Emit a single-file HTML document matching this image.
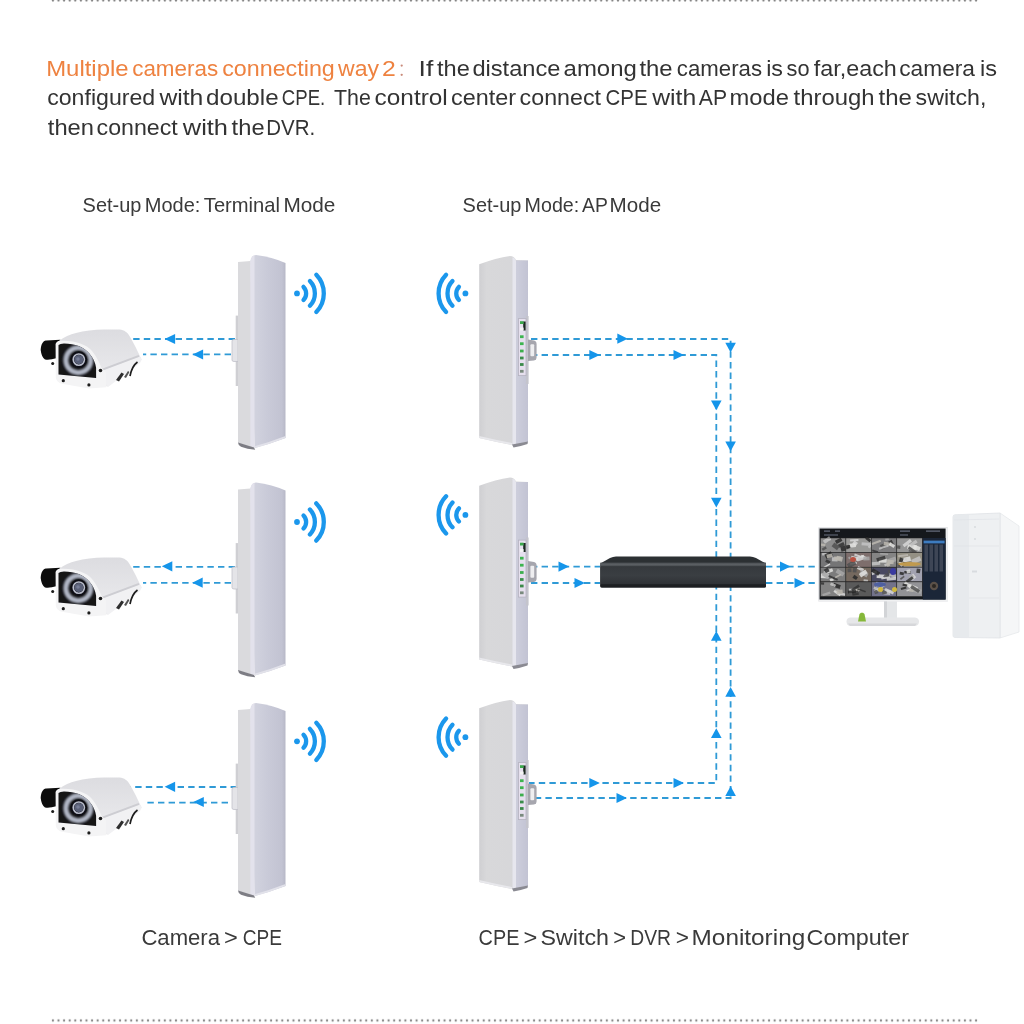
<!DOCTYPE html>
<html><head><meta charset="utf-8">
<style>
html,body{margin:0;padding:0;background:#fff;width:1024px;height:1024px;overflow:hidden}
svg{display:block;position:absolute;left:0;top:0}
text{font-family:"Liberation Sans",sans-serif}
.tx{opacity:0.995}
</style></head>
<body>
<svg width="1024" height="1024" viewBox="0 0 1024 1024">
<defs>
  <filter id="soft" x="-5%" y="-5%" width="110%" height="110%"><feGaussianBlur stdDeviation="0.7"/></filter>
  <filter id="soft2" x="-40%" y="-40%" width="180%" height="180%"><feGaussianBlur stdDeviation="0.8"/></filter>
  <filter id="ph" x="-10%" y="-10%" width="120%" height="120%"><feGaussianBlur stdDeviation="0.4"/></filter>
  <pattern id="dots" x="50.1" y="0" width="5.595" height="4" patternUnits="userSpaceOnUse">
    <circle cx="2.8" cy="0.5" r="1.15" fill="#858585"/>
  </pattern>
  <pattern id="dotsb" x="50.1" y="1018.5" width="5.595" height="4" patternUnits="userSpaceOnUse">
    <circle cx="2.8" cy="2" r="1.15" fill="#858585"/>
  </pattern>
  <!-- wifi icon facing right, centered at 0,0 -->
  <g id="wifiR">
    <circle cx="0" cy="0" r="2.9" fill="#1b97ec"/>
    <g fill="none" stroke="#1b97ec" stroke-width="4.3" stroke-linecap="round">
      <path d="M6.5,-6.5 A9.3,9.3 0 0 1 6.5,6.5"/>
      <path d="M12.9,-12.4 A17.9,17.9 0 0 1 12.9,12.4"/>
      <path d="M19.3,-18.6 A26.8,26.8 0 0 1 19.3,18.6"/>
    </g>
  </g>
  <g id="wifiL" transform="scale(-1,1)"><use href="#wifiR"/></g>
  <linearGradient id="lavL" x1="0" x2="1" y1="0" y2="0">
    <stop offset="0" stop-color="#d4d5e0"/>
    <stop offset="0.5" stop-color="#c9cad8"/>
    <stop offset="0.9" stop-color="#c2c3d2"/>
    <stop offset="1" stop-color="#b7b8c7"/>
  </linearGradient>
  <linearGradient id="lavR" x1="0" x2="1" y1="0" y2="0">
    <stop offset="0" stop-color="#cdcedc"/>
    <stop offset="1" stop-color="#c2c3d3"/>
  </linearGradient>
  <linearGradient id="greyF" x1="0" x2="1" y1="0" y2="0">
    <stop offset="0" stop-color="#cfcfd2"/>
    <stop offset="0.15" stop-color="#d8d8da"/>
    <stop offset="1" stop-color="#d6d6d9"/>
  </linearGradient>
  <!-- left CPE L1 (side on left, front on right) -->
  <g id="cpeL">
    <rect x="235.7" y="315.6" width="3.2" height="70.4" fill="#cfcfd3"/>
    <path d="M232,341 Q232,339.5 234,339.5 L238,339.5 L238,361.5 L234,361.5 Q232,361.5 232,360 Z" fill="#e4e4e8" stroke="#c2c2ca" stroke-width="0.8"/>
    <path d="M238,262 L250.5,261 L254,448 L238,443 Z" fill="#dadadd"/>
    <path d="M250.5,261 Q251.5,255 256,255 Q272,257 285.5,263 L285.5,438 Q270,444 254.5,448 Z" fill="url(#lavL)"/>
    <path d="M250.3,261 Q251.5,255.5 254.5,255.5 L254.5,448 L250.3,446 Z" fill="#e3e2ec"/>
    <path d="M238,442.4 L254,447.6 L255.2,449.8 Q247,449.2 241,446.8 Q238.2,445.4 238,442.4 Z" fill="#7d7d84"/>
    <path d="M254.5,446.2 Q270,442 285.5,436 L285.5,438 Q270,444 254.5,448.2 Z" fill="#e2e2ea"/>
  </g>
  <!-- middle CPE M1 (front on left, side on right) -->
  <g id="cpeM">
    <path d="M479.2,264.3 Q496,258 510,256 Q514,256 516,260 L528,260.5 L528,442 L512,445 Q496,442 479.2,438 Z" fill="url(#greyF)"/>
    <path d="M512.5,257.5 Q514.5,257 516,260.5 L516,444 L512.5,445 Z" fill="#e6e6ee"/>
    <path d="M516,260.5 L528,260.5 L528,442 L516,444 Z" fill="url(#lavR)"/>
    <path d="M512,444.6 L528,441.6 L527.5,444 Q520,446.5 513.5,447.6 Z" fill="#8a8a92"/>
    <path d="M479.2,436 Q496,440 512,443 L512,445 Q496,442 479.2,438 Z" fill="#e8e8ec"/>
    <rect x="526" y="316" width="2.6" height="68" fill="#c4c4cc"/>
    <rect x="518.4" y="318.6" width="7.6" height="57" fill="#e6e0ee" stroke="#b4b2c0" stroke-width="0.8"/>
    <rect x="523.2" y="321.5" width="2.4" height="9" fill="#1e2a22"/>
    <rect x="520" y="321.2" width="3.6" height="2.8" fill="#3aa84c"/>
    <rect x="520" y="327.6" width="3.6" height="2.8" fill="#f4f4f4"/>
    <rect x="520" y="335.3" width="3.6" height="2.8" fill="#3cb450"/>
    <rect x="520" y="342.3" width="3.6" height="2.8" fill="#3cb450"/>
    <rect x="520" y="349.6" width="3.6" height="2.8" fill="#3cae4e"/>
    <rect x="520" y="356.6" width="3.6" height="2.8" fill="#3a8e4c"/>
    <rect x="520" y="363.1" width="3.6" height="2.8" fill="#3a8a4a"/>
    <rect x="520" y="369.9" width="3.6" height="2.8" fill="#7a8a7e"/>
    <path d="M528,339.5 L534,340.5 Q536.6,341 536.6,344 L536.6,357 Q536.6,360 534,360.5 L528,361 Z" fill="#a6a6ae"/>
    <rect x="530.4" y="344.2" width="3.8" height="12" rx="1" fill="#eeeef0"/>
  </g>
  <!-- camera (camera 1) -->
  <linearGradient id="camTop" x1="0" x2="0" y1="0" y2="1">
    <stop offset="0" stop-color="#dcdce0"/>
    <stop offset="0.6" stop-color="#e6e6e9"/>
    <stop offset="1" stop-color="#eeeef0"/>
  </linearGradient>
  <clipPath id="winclip"><path d="M58.5,345 Q60,343.5 64,343.5 C75,343.5 84,347 89.3,353.4 C93,357.5 95.5,362.5 96.1,367.7 L96.1,378 L58.5,374.6 Z"/></clipPath>
  <g id="cam">
    <!-- housing -->
    <path d="M59,341 C64,337 70,334.5 76,333 C84,330.8 94,329.6 104,329.5 L119.4,329.5 C124.5,330 127.5,332.5 129.5,336 C132,340.5 135.5,346 137.7,351.5 L141.6,359.4 L107,387 L96,372 Z" fill="url(#camTop)"/>
    <path d="M98,372 L139.5,356.5 L141.8,359.6 L140,363 L108,387 Z" fill="#f1f1f3"/>
    <path d="M100,369.5 L138.6,355 L139.4,356.8 L99.5,371.8 Z" fill="#cdcdd2"/>
    <!-- black hood -->
    <path d="M40.7,350 C41,344 43,341 46,340.5 L60.5,339.7 Q57.2,342 56.8,346 L56.2,358.3 Q50,360.2 45,359.5 Q41.4,357 40.7,350 Z" fill="#111"/>
    <!-- front plate -->
    <path d="M55.6,344 Q56.5,341 60,340.8 L63,340.8 C77,341 87,345 92,351 C97,357 99.5,363 101.5,368 L106,372 L106,387.2 L89,388.5 L62,383.8 Q57,382.5 55.8,378 Z" fill="#f4f4f5"/>
    <!-- window -->
    <path d="M58.5,345 Q60,343.5 64,343.5 C75,343.5 84,347 89.3,353.4 C93,357.5 95.5,362.5 96.1,367.7 L96.1,378 L58.5,374.6 Z" fill="#131317"/>
    <g clip-path="url(#winclip)">
      <circle cx="78.3" cy="360.2" r="12.5" fill="none" stroke="#b0b6c4" stroke-width="5" filter="url(#soft2)"/>
    </g>
    <circle cx="78.8" cy="359.6" r="8.4" fill="#111115"/>
    <circle cx="78.8" cy="359.6" r="5.6" fill="none" stroke="#b8bccc" stroke-width="1.6"/>
    <circle cx="78.8" cy="359.6" r="4.6" fill="#5a6078"/>
    <circle cx="78" cy="359" r="1.8" fill="#767c96"/>
    <!-- screws -->
    <circle cx="52.7" cy="363.6" r="1.5" fill="#1a1a1a"/>
    <circle cx="63.3" cy="380.7" r="1.6" fill="#1a1a1a"/>
    <circle cx="88.9" cy="384.9" r="1.6" fill="#1a1a1a"/>
    <circle cx="100.5" cy="370.5" r="1.8" fill="#1a1a1a"/>
    <!-- bracket -->
    <path d="M137.5,362 Q132,366 130,376" fill="none" stroke="#1e1e1e" stroke-width="1.7"/>
    <path d="M116,380 L121.5,372.5 L124,374 L119,381.5 Z" fill="#2e2e2e"/>
    <path d="M124,377 L128,371 L129.5,372 L126,378 Z" fill="#555"/>
  </g>
  <!-- arrows -->
  <path id="arR" d="M-10.5,-5.1 L0,0 L-10.5,5.1 Z" fill="#1595ea"/>
  <path id="arL" d="M10.5,-5.1 L0,0 L10.5,5.1 Z" fill="#1595ea"/>
  <path id="arD" d="M-5.3,-9.8 L0,0 L5.3,-9.8 Z" fill="#1595ea"/>
  <path id="arU" d="M-5.3,9.8 L0,0 L5.3,9.8 Z" fill="#1595ea"/>
</defs>

<!-- dotted separators -->
<rect x="50" y="0" width="929" height="3" fill="url(#dots)"/>
<rect x="50" y="1018.5" width="929" height="4" fill="url(#dotsb)"/>

<!-- header text -->
<g class="tx">
<text x="46.2" y="76" font-size="22.6" fill="#ee8240" textLength="82.4" lengthAdjust="spacingAndGlyphs">Multiple</text>
<text x="132.2" y="76" font-size="22.6" fill="#ee8240" textLength="86.0" lengthAdjust="spacingAndGlyphs">cameras</text>
<text x="222.2" y="76" font-size="22.6" fill="#ee8240" textLength="112.6" lengthAdjust="spacingAndGlyphs">connecting</text>
<text x="338.0" y="76" font-size="22.6" fill="#ee8240" textLength="41.0" lengthAdjust="spacingAndGlyphs">way</text>
<text x="382.0" y="76" font-size="22.6" fill="#ee8240" textLength="13.8" lengthAdjust="spacingAndGlyphs">2</text>
<text x="418.6" y="76" font-size="22.6" fill="#333" textLength="14.8" lengthAdjust="spacingAndGlyphs">If</text>
<text x="437.0" y="76" font-size="22.6" fill="#333" textLength="32.8" lengthAdjust="spacingAndGlyphs">the</text>
<text x="472.4" y="76" font-size="22.6" fill="#333" textLength="88.0" lengthAdjust="spacingAndGlyphs">distance</text>
<text x="563.6" y="76" font-size="22.6" fill="#333" textLength="73.2" lengthAdjust="spacingAndGlyphs">among</text>
<text x="639.4" y="76" font-size="22.6" fill="#333" textLength="33.2" lengthAdjust="spacingAndGlyphs">the</text>
<text x="676.8" y="76" font-size="22.6" fill="#333" textLength="85.2" lengthAdjust="spacingAndGlyphs">cameras</text>
<text x="766.2" y="76" font-size="22.6" fill="#333" textLength="16.8" lengthAdjust="spacingAndGlyphs">is</text>
<text x="786.6" y="76" font-size="22.6" fill="#333" textLength="23.0" lengthAdjust="spacingAndGlyphs">so</text>
<text x="813.8" y="76" font-size="22.6" fill="#333" textLength="83.0" lengthAdjust="spacingAndGlyphs">far,each</text>
<text x="899.2" y="76" font-size="22.6" fill="#333" textLength="75.8" lengthAdjust="spacingAndGlyphs">camera</text>
<text x="980.0" y="76" font-size="22.6" fill="#333" textLength="17.0" lengthAdjust="spacingAndGlyphs">is</text>
<text x="47.2" y="105.2" font-size="22.6" fill="#333" textLength="108.0" lengthAdjust="spacingAndGlyphs">configured</text>
<text x="159.4" y="105.2" font-size="22.6" fill="#333" textLength="44.0" lengthAdjust="spacingAndGlyphs">with</text>
<text x="206.0" y="105.2" font-size="22.6" fill="#333" textLength="72.6" lengthAdjust="spacingAndGlyphs">double</text>
<text x="281.8" y="105.2" font-size="22.6" fill="#333" textLength="43.4" lengthAdjust="spacingAndGlyphs">CPE.</text>
<text x="334.0" y="105.2" font-size="22.6" fill="#333" textLength="36.8" lengthAdjust="spacingAndGlyphs">The</text>
<text x="374.6" y="105.2" font-size="22.6" fill="#333" textLength="73.2" lengthAdjust="spacingAndGlyphs">control</text>
<text x="451.0" y="105.2" font-size="22.6" fill="#333" textLength="65.0" lengthAdjust="spacingAndGlyphs">center</text>
<text x="519.6" y="105.2" font-size="22.6" fill="#333" textLength="81.4" lengthAdjust="spacingAndGlyphs">connect</text>
<text x="605.6" y="105.2" font-size="22.6" fill="#333" textLength="42.0" lengthAdjust="spacingAndGlyphs">CPE</text>
<text x="652.2" y="105.2" font-size="22.6" fill="#333" textLength="44.0" lengthAdjust="spacingAndGlyphs">with</text>
<text x="698.8" y="105.2" font-size="22.6" fill="#333" textLength="28.2" lengthAdjust="spacingAndGlyphs">AP</text>
<text x="729.6" y="105.2" font-size="22.6" fill="#333" textLength="59.4" lengthAdjust="spacingAndGlyphs">mode</text>
<text x="793.6" y="105.2" font-size="22.6" fill="#333" textLength="81.0" lengthAdjust="spacingAndGlyphs">through</text>
<text x="878.6" y="105.2" font-size="22.6" fill="#333" textLength="33.4" lengthAdjust="spacingAndGlyphs">the</text>
<text x="915.6" y="105.2" font-size="22.6" fill="#333" textLength="70.8" lengthAdjust="spacingAndGlyphs">switch,</text>
<text x="47.8" y="135.3" font-size="22.6" fill="#333" textLength="46.2" lengthAdjust="spacingAndGlyphs">then</text>
<text x="96.6" y="135.3" font-size="22.6" fill="#333" textLength="81.2" lengthAdjust="spacingAndGlyphs">connect</text>
<text x="182.8" y="135.3" font-size="22.6" fill="#333" textLength="45.2" lengthAdjust="spacingAndGlyphs">with</text>
<text x="231.6" y="135.3" font-size="22.6" fill="#333" textLength="33.0" lengthAdjust="spacingAndGlyphs">the</text>
<text x="266.2" y="135.3" font-size="22.6" fill="#333" textLength="49.0" lengthAdjust="spacingAndGlyphs">DVR.</text>
<text x="82.6" y="211.7" font-size="20.3" fill="#3a3a3a" textLength="58.8" lengthAdjust="spacingAndGlyphs">Set-up</text>
<text x="144.8" y="211.7" font-size="20.3" fill="#3a3a3a" textLength="55.6" lengthAdjust="spacingAndGlyphs">Mode:</text>
<text x="203.8" y="211.7" font-size="20.3" fill="#3a3a3a" textLength="76.2" lengthAdjust="spacingAndGlyphs">Terminal</text>
<text x="283.4" y="211.7" font-size="20.3" fill="#3a3a3a" textLength="52.0" lengthAdjust="spacingAndGlyphs">Mode</text>
<text x="462.6" y="211.7" font-size="20.3" fill="#3a3a3a" textLength="58.8" lengthAdjust="spacingAndGlyphs">Set-up</text>
<text x="524.6" y="211.7" font-size="20.3" fill="#3a3a3a" textLength="54.6" lengthAdjust="spacingAndGlyphs">Mode:</text>
<text x="582.0" y="211.7" font-size="20.3" fill="#3a3a3a" textLength="25.8" lengthAdjust="spacingAndGlyphs">AP</text>
<text x="609.6" y="211.7" font-size="20.3" fill="#3a3a3a" textLength="51.6" lengthAdjust="spacingAndGlyphs">Mode</text>
<text x="141.4" y="944.5" font-size="22" fill="#3a3a3a" textLength="78.6" lengthAdjust="spacingAndGlyphs">Camera</text>
<text x="224.0" y="944.5" font-size="22" fill="#3a3a3a" textLength="13.8" lengthAdjust="spacingAndGlyphs">&gt;</text>
<text x="242.8" y="944.5" font-size="22" fill="#3a3a3a" textLength="39.2" lengthAdjust="spacingAndGlyphs">CPE</text>
<text x="478.6" y="944.5" font-size="22" fill="#3a3a3a" textLength="40.8" lengthAdjust="spacingAndGlyphs">CPE</text>
<text x="523.6" y="944.5" font-size="22" fill="#3a3a3a" textLength="13.8" lengthAdjust="spacingAndGlyphs">&gt;</text>
<text x="540.6" y="944.5" font-size="22" fill="#3a3a3a" textLength="68.4" lengthAdjust="spacingAndGlyphs">Switch</text>
<text x="613.2" y="944.5" font-size="22" fill="#3a3a3a" textLength="12.8" lengthAdjust="spacingAndGlyphs">&gt;</text>
<text x="630.2" y="944.5" font-size="22" fill="#3a3a3a" textLength="40.8" lengthAdjust="spacingAndGlyphs">DVR</text>
<text x="675.8" y="944.5" font-size="22" fill="#3a3a3a" textLength="13.2" lengthAdjust="spacingAndGlyphs">&gt;</text>
<text x="691.6" y="944.5" font-size="22" fill="#3a3a3a" textLength="113.6" lengthAdjust="spacingAndGlyphs">Monitoring</text>
<text x="806.6" y="944.5" font-size="22" fill="#3a3a3a" textLength="102.4" lengthAdjust="spacingAndGlyphs">Computer</text>
<circle cx="401.7" cy="65.6" r="1.15" fill="#c98a7a"/><circle cx="401.7" cy="74.8" r="1.15" fill="#c98a7a"/>
</g>
<!-- dashed lines -->
<g fill="none" stroke="#2f9ad6" stroke-width="1.8" stroke-dasharray="6.4 4.2">
  <!-- left group -->
  <path d="M235,339 H131 M231,354.3 H143"/>
  <path d="M235,566.8 H129 M231,582.8 H143"/>
  <path d="M237,787 H130 M228,802.7 H144"/>
  <!-- middle -->
  <path d="M531,339 H730.6 V798 H529"/>
  <path d="M531,355 H716.3 V783 H529"/>
  <path d="M531,566.6 H600 M766,566.6 H818"/>
  <path d="M531,583 H600 M766,583 H818"/>
</g>
<!-- arrows -->
<g>
  <use href="#arL" x="164.6" y="339"/>
  <use href="#arL" x="192.6" y="354.5"/>
  <use href="#arL" x="161.8" y="566.3"/>
  <use href="#arL" x="192.2" y="582.7"/>
  <use href="#arL" x="164.6" y="786.8"/>
  <use href="#arL" x="193.3" y="802"/>

  <use href="#arR" x="627.8" y="338.7"/>
  <use href="#arR" x="599.8" y="355"/>
  <use href="#arR" x="684" y="355"/>
  <use href="#arR" x="569" y="566.6"/>
  <use href="#arR" x="585" y="583"/>
  <use href="#arR" x="790.5" y="566.6"/>
  <use href="#arR" x="805" y="583"/>
  <use href="#arR" x="599.8" y="783"/>
  <use href="#arR" x="684" y="783"/>
  <use href="#arR" x="627" y="798"/>

  <use href="#arD" x="730.6" y="352.5"/>
  <use href="#arD" x="730.6" y="451.2"/>
  <use href="#arU" x="730.6" y="687"/>
  <use href="#arU" x="730.6" y="786.3"/>
  <use href="#arD" x="716.3" y="410.3"/>
  <use href="#arD" x="716.3" y="507.5"/>
  <use href="#arU" x="716.3" y="631"/>
  <use href="#arU" x="716.3" y="728.3"/>
</g>

<!-- wifi icons -->
<use href="#wifiR" x="297" y="293.4"/>
<use href="#wifiR" x="297" y="522"/>
<use href="#wifiR" x="297" y="741.3"/>
<use href="#wifiL" transform="translate(465.4,293.4)"/>
<use href="#wifiL" transform="translate(465.4,514.9)"/>
<use href="#wifiL" transform="translate(465.4,737.2)"/>

<!-- CPEs -->
<g filter="url(#ph)">
<use href="#cpeL"/>
<use href="#cpeL" y="227.5"/>
<use href="#cpeL" y="448"/>
<use href="#cpeM"/>
<use href="#cpeM" y="221.5"/>
<use href="#cpeM" y="444"/>
</g>

<!-- cameras -->
<g filter="url(#ph)">
<use href="#cam"/>
<use href="#cam" y="228"/>
<use href="#cam" y="448"/>
</g>

<!-- switch -->
<linearGradient id="swHi" x1="0" x2="0" y1="0" y2="1">
  <stop offset="0" stop-color="#4a4e52"/><stop offset="0.5" stop-color="#5b5f63"/><stop offset="1" stop-color="#43474b"/>
</linearGradient>
<linearGradient id="swBody" x1="0" x2="0" y1="0" y2="1">
  <stop offset="0" stop-color="#36393d"/><stop offset="0.5" stop-color="#3a3e42"/><stop offset="1" stop-color="#2f3236"/>
</linearGradient>
<g>
  <path d="M616,556.5 L750,556.5 Q753,556.6 756,558 L766,563.5 L766,586 Q766,587.6 764.5,587.6 L602,587.6 Q600.3,587.6 600.3,586 L600.3,563.5 L610,558 Q613,556.6 616,556.5 Z" fill="#2c3033"/>
  <rect x="600.3" y="562.6" width="165.7" height="4" fill="url(#swHi)"/>
  <rect x="600.3" y="566.6" width="165.7" height="17.6" fill="url(#swBody)"/>
  <path d="M600.3,584.2 L766,584.2 L766,586 Q766,587.6 764.5,587.6 L602,587.6 Q600.3,587.6 600.3,586 Z" fill="#1d1f22"/>
</g>

<!-- monitor -->
<g>
  <rect x="818.4" y="527.4" width="129.4" height="74" fill="#d4d6d9"/>
  <rect x="819.6" y="528.6" width="126.4" height="71.2" fill="#15181c"/>
  <rect x="945.6" y="528" width="2.2" height="73" fill="#eeeff1"/>
  <rect x="818.4" y="599.6" width="129.4" height="1.8" fill="#f0f1f2"/>
  <g filter="url(#soft)">
<rect x="820.4" y="538.0" width="25.5" height="14.6" fill="#8c8c8c"/>
<rect x="838.2" y="543.2" width="6.2" height="3.5" fill="#343434" opacity="0.85" transform="rotate(-25 841.3 544.9)"/>
<rect x="835.4" y="539.0" width="6.6" height="3.7" fill="#282828" opacity="0.85" transform="rotate(-29 838.7 540.9)"/>
<rect x="832.3" y="544.0" width="6.8" height="4.6" fill="#505050" opacity="0.85" transform="rotate(37 835.6 546.3)"/>
<rect x="823.2" y="538.2" width="7.6" height="3.7" fill="#c4c4c4" opacity="0.85" transform="rotate(-35 827.0 540.0)"/>
<rect x="821.0" y="543.7" width="4.3" height="2.3" fill="#bcb8b0" opacity="0.85" transform="rotate(7 823.2 544.9)"/>
<rect x="826.6" y="538.1" width="4.4" height="2.3" fill="#c4c4c4" opacity="0.85" transform="rotate(-3 828.8 539.2)"/>
<rect x="840.8" y="546.1" width="4.9" height="5.0" fill="#282828" opacity="0.85" transform="rotate(-15 843.3 548.6)"/>
<rect x="821.9" y="547.3" width="4.6" height="2.5" fill="#505050" opacity="0.85" transform="rotate(-31 824.2 548.5)"/>
<rect x="820.4" y="538.0" width="25.5" height="14.6" fill="none" stroke="#222" stroke-width="0.5"/>
<rect x="845.9" y="538.0" width="25.5" height="14.6" fill="#9a9a98"/>
<rect x="846.2" y="546.8" width="5.0" height="1.7" fill="#343434" opacity="0.85" transform="rotate(-23 848.7 547.7)"/>
<rect x="861.6" y="542.6" width="9.4" height="3.1" fill="#c4c4c4" opacity="0.85" transform="rotate(5 866.3 544.1)"/>
<rect x="852.9" y="541.3" width="4.4" height="3.9" fill="#d8d8d8" opacity="0.85" transform="rotate(37 855.1 543.3)"/>
<rect x="850.1" y="539.3" width="8.3" height="1.9" fill="#d8d8d8" opacity="0.85" transform="rotate(-3 854.2 540.2)"/>
<rect x="849.4" y="543.5" width="6.4" height="3.9" fill="#e4e4e2" opacity="0.85" transform="rotate(-6 852.6 545.4)"/>
<rect x="865.4" y="538.0" width="5.7" height="2.9" fill="#282828" opacity="0.85" transform="rotate(40 868.3 539.4)"/>
<rect x="868.1" y="545.5" width="3.1" height="2.2" fill="#c4c4c4" opacity="0.85" transform="rotate(-37 869.6 546.6)"/>
<rect x="846.1" y="545.1" width="4.0" height="3.0" fill="#282828" opacity="0.85" transform="rotate(-9 848.1 546.6)"/>
<rect x="845.9" y="538.0" width="25.5" height="14.6" fill="none" stroke="#222" stroke-width="0.5"/>
<rect x="871.3" y="538.0" width="25.5" height="14.6" fill="#7c7c7e"/>
<rect x="885.3" y="538.2" width="3.5" height="2.2" fill="#a8a8a8" opacity="0.85" transform="rotate(-10 887.0 539.3)"/>
<rect x="880.6" y="543.6" width="6.2" height="4.9" fill="#505050" opacity="0.85" transform="rotate(-25 883.7 546.0)"/>
<rect x="888.8" y="540.5" width="4.1" height="4.7" fill="#343434" opacity="0.85" transform="rotate(-27 890.8 542.8)"/>
<rect x="883.7" y="542.3" width="7.4" height="3.4" fill="#bcb8b0" opacity="0.85" transform="rotate(8 887.4 544.1)"/>
<rect x="872.1" y="550.3" width="6.0" height="1.9" fill="#343434" opacity="0.85" transform="rotate(19 875.0 551.2)"/>
<rect x="889.1" y="543.7" width="5.7" height="3.0" fill="#e4e4e2" opacity="0.85" transform="rotate(34 892.0 545.2)"/>
<rect x="878.8" y="546.3" width="9.8" height="1.9" fill="#c4c4c4" opacity="0.85" transform="rotate(-18 883.7 547.3)"/>
<rect x="871.6" y="541.3" width="9.4" height="2.2" fill="#bcb8b0" opacity="0.85" transform="rotate(-20 876.3 542.4)"/>
<rect x="871.3" y="538.0" width="25.5" height="14.6" fill="none" stroke="#222" stroke-width="0.5"/>
<rect x="896.8" y="538.0" width="25.5" height="14.6" fill="#969696"/>
<rect x="908.5" y="549.8" width="3.3" height="2.5" fill="#c4c4c4" opacity="0.85" transform="rotate(-11 910.2 551.1)"/>
<rect x="907.4" y="544.7" width="9.2" height="4.9" fill="#e4e4e2" opacity="0.85" transform="rotate(7 912.0 547.2)"/>
<rect x="902.5" y="541.6" width="9.5" height="3.2" fill="#d8d8d8" opacity="0.85" transform="rotate(-38 907.2 543.2)"/>
<rect x="909.9" y="541.6" width="7.5" height="3.2" fill="#c4c4c4" opacity="0.85" transform="rotate(-34 913.6 543.2)"/>
<rect x="913.5" y="545.8" width="6.8" height="4.1" fill="#e4e4e2" opacity="0.85" transform="rotate(23 916.9 547.8)"/>
<rect x="907.7" y="548.7" width="9.4" height="2.7" fill="#505050" opacity="0.85" transform="rotate(36 912.4 550.1)"/>
<rect x="897.1" y="545.5" width="3.2" height="3.2" fill="#505050" opacity="0.85" transform="rotate(7 898.7 547.2)"/>
<rect x="908.4" y="550.8" width="7.3" height="1.8" fill="#505050" opacity="0.85" transform="rotate(18 912.0 551.6)"/>
<rect x="896.8" y="538.0" width="25.5" height="14.6" fill="none" stroke="#222" stroke-width="0.5"/>
<rect x="820.4" y="552.6" width="25.5" height="14.6" fill="#747476"/>
<rect x="831.9" y="557.3" width="5.7" height="4.1" fill="#c4c4c4" opacity="0.85" transform="rotate(1 834.7 559.3)"/>
<rect x="822.1" y="552.9" width="6.6" height="2.6" fill="#c4c4c4" opacity="0.85" transform="rotate(-0 825.4 554.2)"/>
<rect x="825.0" y="552.7" width="7.3" height="4.7" fill="#282828" opacity="0.85" transform="rotate(-29 828.7 555.1)"/>
<rect x="834.1" y="556.5" width="7.3" height="3.3" fill="#bcb8b0" opacity="0.85" transform="rotate(-0 837.7 558.2)"/>
<rect x="825.6" y="560.1" width="4.7" height="2.9" fill="#343434" opacity="0.85" transform="rotate(30 827.9 561.5)"/>
<rect x="826.7" y="554.1" width="5.7" height="3.5" fill="#bcb8b0" opacity="0.85" transform="rotate(-12 829.5 555.9)"/>
<rect x="821.4" y="565.4" width="9.3" height="1.6" fill="#e4e4e2" opacity="0.85" transform="rotate(-31 826.1 566.2)"/>
<rect x="836.3" y="556.4" width="6.3" height="4.7" fill="#bcb8b0" opacity="0.85" transform="rotate(14 839.5 558.8)"/>
<rect x="820.4" y="552.6" width="25.5" height="14.6" fill="none" stroke="#222" stroke-width="0.5"/>
<rect x="845.9" y="552.6" width="25.5" height="14.6" fill="#7e6e6c"/>
<rect x="856.7" y="555.9" width="8.0" height="4.4" fill="#d8d8d8" opacity="0.85" transform="rotate(-18 860.8 558.1)"/>
<rect x="851.0" y="556.4" width="7.3" height="3.9" fill="#d8d8d8" opacity="0.85" transform="rotate(11 854.6 558.4)"/>
<rect x="860.9" y="555.9" width="5.8" height="2.2" fill="#e4e4e2" opacity="0.85" transform="rotate(24 863.9 557.0)"/>
<rect x="847.5" y="559.4" width="9.9" height="1.9" fill="#a8a8a8" opacity="0.85" transform="rotate(37 852.5 560.4)"/>
<rect x="854.2" y="554.8" width="7.8" height="2.2" fill="#d8d8d8" opacity="0.85" transform="rotate(20 858.1 555.9)"/>
<rect x="850.1" y="562.7" width="6.7" height="1.6" fill="#e4e4e2" opacity="0.85" transform="rotate(-9 853.5 563.6)"/>
<rect x="847.3" y="561.9" width="8.5" height="4.7" fill="#505050" opacity="0.85" transform="rotate(-30 851.6 564.2)"/>
<rect x="863.4" y="556.7" width="6.2" height="3.7" fill="#a8a8a8" opacity="0.85" transform="rotate(-3 866.5 558.6)"/>
<rect x="845.9" y="552.6" width="25.5" height="14.6" fill="none" stroke="#222" stroke-width="0.5"/>
<rect x="871.3" y="552.6" width="25.5" height="14.6" fill="#848484"/>
<rect x="884.2" y="562.8" width="7.6" height="2.2" fill="#c4c4c4" opacity="0.85" transform="rotate(-23 888.0 563.9)"/>
<rect x="887.1" y="557.8" width="9.3" height="4.9" fill="#a8a8a8" opacity="0.85" transform="rotate(-19 891.7 560.3)"/>
<rect x="880.1" y="553.1" width="8.0" height="1.6" fill="#a8a8a8" opacity="0.85" transform="rotate(4 884.1 553.9)"/>
<rect x="871.8" y="561.9" width="8.4" height="3.2" fill="#c4c4c4" opacity="0.85" transform="rotate(-6 876.0 563.5)"/>
<rect x="886.5" y="562.9" width="3.2" height="3.4" fill="#bcb8b0" opacity="0.85" transform="rotate(-28 888.2 564.6)"/>
<rect x="887.1" y="559.9" width="6.6" height="4.0" fill="#bcb8b0" opacity="0.85" transform="rotate(6 890.4 561.9)"/>
<rect x="879.0" y="558.5" width="7.8" height="4.2" fill="#e4e4e2" opacity="0.85" transform="rotate(2 883.0 560.6)"/>
<rect x="876.5" y="556.9" width="8.9" height="3.5" fill="#343434" opacity="0.85" transform="rotate(-16 880.9 558.6)"/>
<rect x="871.3" y="552.6" width="25.5" height="14.6" fill="none" stroke="#222" stroke-width="0.5"/>
<rect x="896.8" y="552.6" width="25.5" height="14.6" fill="#949084"/>
<rect x="902.6" y="558.2" width="4.0" height="3.4" fill="#505050" opacity="0.85" transform="rotate(3 904.6 559.9)"/>
<rect x="897.3" y="563.3" width="6.5" height="3.6" fill="#505050" opacity="0.85" transform="rotate(4 900.5 565.1)"/>
<rect x="898.2" y="554.7" width="9.9" height="1.9" fill="#bcb8b0" opacity="0.85" transform="rotate(-7 903.2 555.7)"/>
<rect x="901.0" y="557.3" width="9.7" height="4.7" fill="#e4e4e2" opacity="0.85" transform="rotate(-13 905.8 559.7)"/>
<rect x="911.6" y="557.8" width="9.3" height="4.8" fill="#c4c4c4" opacity="0.85" transform="rotate(-25 916.3 560.2)"/>
<rect x="899.1" y="560.3" width="7.3" height="4.7" fill="#d8d8d8" opacity="0.85" transform="rotate(-37 902.8 562.7)"/>
<rect x="902.8" y="562.1" width="4.1" height="1.5" fill="#343434" opacity="0.85" transform="rotate(10 904.9 562.9)"/>
<rect x="899.4" y="558.0" width="3.7" height="4.1" fill="#282828" opacity="0.85" transform="rotate(17 901.3 560.0)"/>
<rect x="896.8" y="552.6" width="25.5" height="14.6" fill="none" stroke="#222" stroke-width="0.5"/>
<rect x="820.4" y="567.2" width="25.5" height="14.6" fill="#7c7c7c"/>
<rect x="820.8" y="573.6" width="7.9" height="4.6" fill="#e4e4e2" opacity="0.85" transform="rotate(3 824.8 575.9)"/>
<rect x="824.0" y="569.7" width="9.0" height="3.4" fill="#e4e4e2" opacity="0.85" transform="rotate(-21 828.5 571.4)"/>
<rect x="836.0" y="570.5" width="8.2" height="4.3" fill="#a8a8a8" opacity="0.85" transform="rotate(31 840.1 572.7)"/>
<rect x="824.5" y="568.3" width="4.4" height="4.2" fill="#343434" opacity="0.85" transform="rotate(-29 826.7 570.4)"/>
<rect x="829.9" y="578.3" width="3.6" height="2.9" fill="#e4e4e2" opacity="0.85" transform="rotate(-24 831.7 579.8)"/>
<rect x="822.1" y="573.1" width="7.4" height="4.3" fill="#a8a8a8" opacity="0.85" transform="rotate(33 825.8 575.3)"/>
<rect x="828.3" y="576.9" width="9.8" height="1.9" fill="#343434" opacity="0.85" transform="rotate(24 833.2 577.8)"/>
<rect x="834.9" y="575.2" width="6.4" height="1.6" fill="#bcb8b0" opacity="0.85" transform="rotate(-28 838.1 576.0)"/>
<rect x="820.4" y="567.2" width="25.5" height="14.6" fill="none" stroke="#222" stroke-width="0.5"/>
<rect x="845.9" y="567.2" width="25.5" height="14.6" fill="#74695e"/>
<rect x="863.6" y="579.5" width="4.3" height="2.2" fill="#c4c4c4" opacity="0.85" transform="rotate(6 865.8 580.6)"/>
<rect x="847.5" y="568.3" width="3.9" height="3.9" fill="#505050" opacity="0.85" transform="rotate(-3 849.5 570.2)"/>
<rect x="857.2" y="567.4" width="6.6" height="3.0" fill="#d8d8d8" opacity="0.85" transform="rotate(28 860.5 568.9)"/>
<rect x="861.5" y="571.9" width="4.3" height="3.1" fill="#343434" opacity="0.85" transform="rotate(8 863.6 573.5)"/>
<rect x="852.9" y="568.1" width="3.7" height="4.3" fill="#505050" opacity="0.85" transform="rotate(6 854.7 570.3)"/>
<rect x="853.0" y="575.7" width="4.3" height="3.5" fill="#282828" opacity="0.85" transform="rotate(33 855.2 577.5)"/>
<rect x="859.9" y="571.5" width="8.2" height="4.2" fill="#a8a8a8" opacity="0.85" transform="rotate(30 864.0 573.6)"/>
<rect x="859.3" y="571.5" width="7.9" height="4.2" fill="#e4e4e2" opacity="0.85" transform="rotate(-34 863.2 573.6)"/>
<rect x="845.9" y="567.2" width="25.5" height="14.6" fill="none" stroke="#222" stroke-width="0.5"/>
<rect x="871.3" y="567.2" width="25.5" height="14.6" fill="#4a4a60"/>
<rect x="871.5" y="571.3" width="5.4" height="3.1" fill="#d8d8d8" opacity="0.85" transform="rotate(-21 874.2 572.9)"/>
<rect x="876.7" y="574.4" width="9.6" height="3.8" fill="#e4e4e2" opacity="0.85" transform="rotate(3 881.5 576.3)"/>
<rect x="884.0" y="574.0" width="5.7" height="5.0" fill="#505050" opacity="0.85" transform="rotate(38 886.8 576.5)"/>
<rect x="887.8" y="570.1" width="3.2" height="3.7" fill="#505050" opacity="0.85" transform="rotate(0 889.3 571.9)"/>
<rect x="871.5" y="570.1" width="8.3" height="3.8" fill="#282828" opacity="0.85" transform="rotate(32 875.6 571.9)"/>
<rect x="889.3" y="573.7" width="6.9" height="3.3" fill="#c4c4c4" opacity="0.85" transform="rotate(11 892.7 575.3)"/>
<rect x="881.3" y="577.0" width="8.7" height="1.8" fill="#d8d8d8" opacity="0.85" transform="rotate(-9 885.7 577.9)"/>
<rect x="886.7" y="577.3" width="9.6" height="2.9" fill="#d8d8d8" opacity="0.85" transform="rotate(-6 891.5 578.8)"/>
<rect x="871.3" y="567.2" width="25.5" height="14.6" fill="none" stroke="#222" stroke-width="0.5"/>
<rect x="896.8" y="567.2" width="25.5" height="14.6" fill="#a2a2b0"/>
<rect x="904.3" y="571.0" width="6.5" height="2.5" fill="#282828" opacity="0.85" transform="rotate(-1 907.5 572.3)"/>
<rect x="910.4" y="574.6" width="4.9" height="4.8" fill="#d8d8d8" opacity="0.85" transform="rotate(-39 912.8 577.0)"/>
<rect x="900.0" y="577.0" width="4.7" height="1.6" fill="#505050" opacity="0.85" transform="rotate(-36 902.4 577.9)"/>
<rect x="908.5" y="575.7" width="5.2" height="2.9" fill="#a8a8a8" opacity="0.85" transform="rotate(-34 911.1 577.2)"/>
<rect x="904.4" y="578.6" width="9.3" height="3.0" fill="#343434" opacity="0.85" transform="rotate(-36 909.1 580.1)"/>
<rect x="916.5" y="568.7" width="3.7" height="4.3" fill="#343434" opacity="0.85" transform="rotate(8 918.4 570.9)"/>
<rect x="906.6" y="569.5" width="3.8" height="3.7" fill="#d8d8d8" opacity="0.85" transform="rotate(-11 908.5 571.3)"/>
<rect x="899.7" y="572.2" width="4.1" height="2.8" fill="#282828" opacity="0.85" transform="rotate(11 901.8 573.6)"/>
<rect x="896.8" y="567.2" width="25.5" height="14.6" fill="none" stroke="#222" stroke-width="0.5"/>
<rect x="820.4" y="581.9" width="25.5" height="14.6" fill="#828282"/>
<rect x="833.5" y="591.5" width="7.8" height="2.8" fill="#e4e4e2" opacity="0.85" transform="rotate(36 837.4 592.9)"/>
<rect x="822.4" y="592.8" width="8.1" height="2.3" fill="#a8a8a8" opacity="0.85" transform="rotate(-18 826.4 594.0)"/>
<rect x="833.1" y="583.9" width="7.3" height="4.0" fill="#282828" opacity="0.85" transform="rotate(20 836.7 585.9)"/>
<rect x="841.1" y="593.1" width="4.3" height="2.4" fill="#d8d8d8" opacity="0.85" transform="rotate(10 843.3 594.3)"/>
<rect x="821.0" y="582.3" width="3.1" height="2.4" fill="#343434" opacity="0.85" transform="rotate(3 822.5 583.5)"/>
<rect x="835.2" y="588.9" width="3.5" height="1.8" fill="#a8a8a8" opacity="0.85" transform="rotate(-1 837.0 589.8)"/>
<rect x="830.3" y="583.5" width="5.5" height="2.7" fill="#c4c4c4" opacity="0.85" transform="rotate(24 833.0 584.8)"/>
<rect x="836.6" y="589.8" width="6.1" height="4.4" fill="#bcb8b0" opacity="0.85" transform="rotate(-6 839.7 591.9)"/>
<rect x="820.4" y="581.9" width="25.5" height="14.6" fill="none" stroke="#222" stroke-width="0.5"/>
<rect x="845.9" y="581.9" width="25.5" height="14.6" fill="#5a5a5a"/>
<rect x="853.5" y="588.6" width="4.8" height="4.3" fill="#a8a8a8" opacity="0.85" transform="rotate(-17 855.9 590.8)"/>
<rect x="849.0" y="588.6" width="8.3" height="4.4" fill="#c4c4c4" opacity="0.85" transform="rotate(-3 853.2 590.8)"/>
<rect x="854.6" y="588.2" width="5.3" height="3.4" fill="#bcb8b0" opacity="0.85" transform="rotate(-16 857.2 590.0)"/>
<rect x="849.5" y="590.4" width="8.4" height="1.8" fill="#c4c4c4" opacity="0.85" transform="rotate(16 853.7 591.3)"/>
<rect x="852.1" y="591.1" width="6.5" height="4.2" fill="#343434" opacity="0.85" transform="rotate(-11 855.3 593.2)"/>
<rect x="847.9" y="590.3" width="8.1" height="2.8" fill="#282828" opacity="0.85" transform="rotate(-5 851.9 591.7)"/>
<rect x="851.2" y="586.7" width="8.6" height="2.6" fill="#343434" opacity="0.85" transform="rotate(-33 855.5 588.0)"/>
<rect x="857.1" y="589.5" width="8.8" height="1.6" fill="#343434" opacity="0.85" transform="rotate(19 861.5 590.3)"/>
<rect x="845.9" y="581.9" width="25.5" height="14.6" fill="none" stroke="#222" stroke-width="0.5"/>
<rect x="871.3" y="581.9" width="25.5" height="14.6" fill="#72728a"/>
<rect x="874.4" y="588.8" width="5.6" height="2.9" fill="#e4e4e2" opacity="0.85" transform="rotate(-26 877.2 590.3)"/>
<rect x="876.1" y="582.1" width="8.3" height="4.6" fill="#d8d8d8" opacity="0.85" transform="rotate(4 880.3 584.4)"/>
<rect x="883.3" y="589.7" width="7.0" height="4.9" fill="#c4c4c4" opacity="0.85" transform="rotate(7 886.8 592.2)"/>
<rect x="878.1" y="584.9" width="5.1" height="3.4" fill="#c4c4c4" opacity="0.85" transform="rotate(32 880.7 586.6)"/>
<rect x="874.4" y="590.0" width="3.6" height="3.7" fill="#505050" opacity="0.85" transform="rotate(-20 876.2 591.9)"/>
<rect x="882.2" y="589.9" width="4.5" height="4.2" fill="#505050" opacity="0.85" transform="rotate(-12 884.5 592.0)"/>
<rect x="873.6" y="587.7" width="8.7" height="2.7" fill="#c4c4c4" opacity="0.85" transform="rotate(17 877.9 589.0)"/>
<rect x="884.6" y="589.7" width="9.4" height="2.9" fill="#d8d8d8" opacity="0.85" transform="rotate(24 889.3 591.1)"/>
<rect x="871.3" y="581.9" width="25.5" height="14.6" fill="none" stroke="#222" stroke-width="0.5"/>
<rect x="896.8" y="581.9" width="25.5" height="14.6" fill="#929296"/>
<rect x="912.7" y="588.3" width="8.8" height="4.6" fill="#a8a8a8" opacity="0.85" transform="rotate(17 917.1 590.6)"/>
<rect x="903.8" y="583.6" width="8.6" height="3.0" fill="#e4e4e2" opacity="0.85" transform="rotate(39 908.1 585.1)"/>
<rect x="900.8" y="587.2" width="5.6" height="2.1" fill="#282828" opacity="0.85" transform="rotate(-18 903.6 588.2)"/>
<rect x="908.6" y="585.4" width="9.2" height="3.2" fill="#e4e4e2" opacity="0.85" transform="rotate(22 913.2 586.9)"/>
<rect x="906.5" y="589.4" width="4.3" height="1.7" fill="#d8d8d8" opacity="0.85" transform="rotate(-15 908.6 590.3)"/>
<rect x="909.1" y="589.0" width="4.4" height="2.8" fill="#bcb8b0" opacity="0.85" transform="rotate(8 911.3 590.4)"/>
<rect x="902.6" y="584.0" width="4.6" height="2.1" fill="#282828" opacity="0.85" transform="rotate(10 904.9 585.1)"/>
<rect x="910.3" y="587.3" width="9.6" height="3.4" fill="#505050" opacity="0.85" transform="rotate(33 915.1 589.0)"/>
<rect x="896.8" y="581.9" width="25.5" height="14.6" fill="none" stroke="#222" stroke-width="0.5"/>
<ellipse cx="853.0" cy="559.5" rx="3.0" ry="2.5" fill="#b85040"/>
<ellipse cx="909.5" cy="564.0" rx="11.5" ry="2.0" fill="#c09a50"/>
<ellipse cx="893.0" cy="571.5" rx="3.0" ry="3.5" fill="#3a3aa0"/>
<ellipse cx="880.5" cy="589.5" rx="2.5" ry="2.5" fill="#d0b840"/>
<ellipse cx="894.5" cy="589.5" rx="2.5" ry="2.5" fill="#d0b840"/>
<ellipse cx="880.0" cy="584.5" rx="6.0" ry="2.5" fill="#5060a0"/>
  </g>
  <rect x="922.8" y="538" width="22.8" height="61.6" fill="#1b2638"/>
  <rect x="923.6" y="540.6" width="21" height="2.8" fill="#3d7cc0"/>
  <g fill="#3e4656">
    <rect x="924.5" y="544.5" width="3.5" height="27"/><rect x="929.5" y="544.5" width="3.5" height="27"/>
    <rect x="934.5" y="544.5" width="3.5" height="27"/><rect x="939.5" y="544.5" width="3.5" height="27"/>
  </g>
  <circle cx="934" cy="586" r="4.2" fill="#5a5048"/>
  <circle cx="934" cy="586" r="2" fill="#2a2622"/>
  <g fill="#6a7080"><rect x="824" y="530.5" width="6" height="1.2"/><rect x="835" y="530.5" width="5" height="1.2"/><rect x="900" y="530.5" width="10" height="1.2"/><rect x="926" y="530.5" width="14" height="1.2"/><rect x="824" y="534.5" width="14" height="1"/><rect x="900" y="534.5" width="8" height="1"/></g>
  <rect x="884" y="601.4" width="13" height="16.6" fill="#e4e6e8"/>
  <rect x="884" y="601.4" width="3" height="16.6" fill="#d2d4d7"/>
  <path d="M850,617.5 L915,617.5 Q919,618 919,621.5 Q919,625.5 915,626 L850,626 Q846.5,625.5 846.5,621.5 Q846.5,618 850,617.5 Z" fill="#e6e7e9"/>
  <path d="M848,623.5 L917,623.5 L915,626 L850,626 Z" fill="#d6d7da"/>
  <path d="M858,621.5 L859.5,614 L861,612.7 L863,612.7 L864.5,614 L866,621.5 Z" fill="#86b83a"/>
</g>

<!-- tower -->
<g filter="url(#ph)">
  <path d="M1000,513 L1019,526 L1019,632 L1000,638 Z" fill="#f5f6f7" stroke="#e6e8eb" stroke-width="0.8"/>
  <path d="M955,514.8 L1000,513 L1000,638 L955,637.5 Q953,637.5 953,635.5 L953,517 Q953,514.9 955,514.8 Z" fill="#eef0f2" stroke="#dfe2e6" stroke-width="0.8"/>
  <path d="M955,514.8 L969,514.3 L969,637.6 L955,637.5 Q953,637.5 953,635.5 L953,517 Q953,514.9 955,514.8 Z" fill="#e7eaed"/>
  <g stroke="#e0e3e7" stroke-width="0.7">
    <line x1="954" y1="520" x2="999" y2="519"/>
    <line x1="969" y1="546" x2="999" y2="546"/>
    <line x1="954" y1="546" x2="969" y2="546"/>
    <line x1="969" y1="598" x2="999" y2="598"/>
  </g>
  <circle cx="975" cy="527" r="0.9" fill="#d4d8dc"/>
  <circle cx="975" cy="539" r="0.9" fill="#d4d8dc"/>
  <rect x="972" y="570.5" width="5" height="2" fill="#d8dbdf"/>
</g>
</svg>
</body></html>
